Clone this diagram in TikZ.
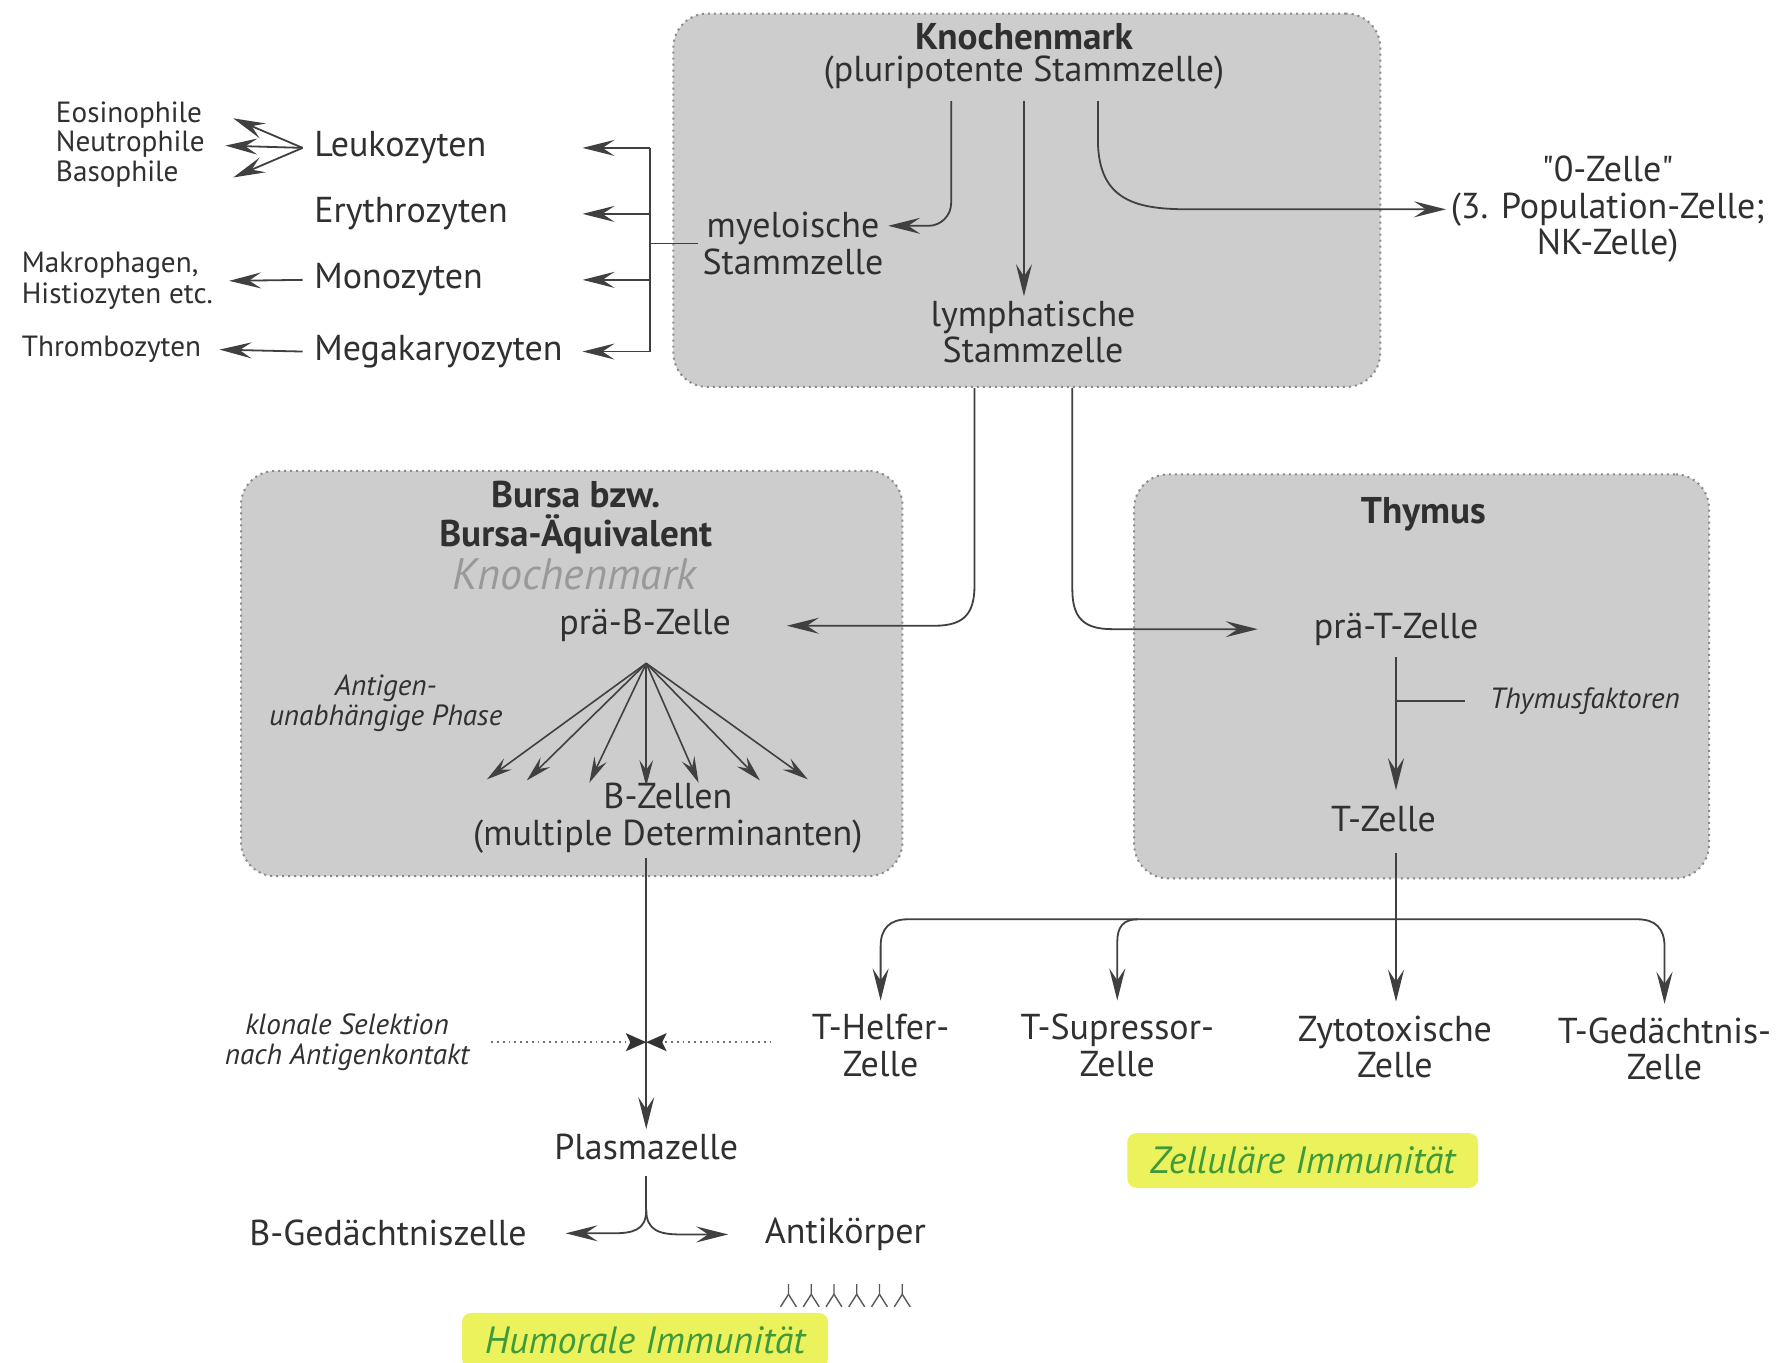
\documentclass[tikz,border=0pt]{standalone}
\usepackage{fontspec}
\setmainfont{PT Sans}
\newfontfamily\rawqfont{PT Sans}[Ligatures=TeXOff]
\usetikzlibrary{arrows.meta,calc}
\definecolor{txt}{HTML}{303030}
\definecolor{boxfill}{HTML}{CDCDCD}
\definecolor{boxline}{HTML}{8A8A8A}
\definecolor{hiyellow}{HTML}{ECF25C}
\definecolor{higreen}{HTML}{3E9A3A}
\definecolor{pen}{HTML}{999999}
\tikzset{
 region/.style={draw=boxline, densely dotted, line width=0.5pt, fill=boxfill, rounded corners=0.3cm, inner sep=0pt},
 lblmain/.style={text=txt, font=\fontsize{9}{9.1}\selectfont, inner sep=1pt, align=center},
 lblsmall/.style={text=txt, font=\fontsize{7.3}{6.6}\selectfont, inner sep=1pt},
 lblnote/.style={text=txt, font=\fontsize{7.3}{7.6}\selectfont\itshape, inner sep=1pt, align=center},
 lblhead/.style={text=txt, font=\fontsize{9.3}{9.6}\selectfont\bfseries, inner sep=1pt, align=center},
 lblhand/.style={text=pen, font=\fontsize{11}{12}\selectfont\itshape, inner sep=1pt},
 immun/.style={text=higreen, fill=hiyellow, font=\fontsize{9.5}{10}\selectfont\itshape, rounded corners=0.08cm, inner xsep=0.2cm, inner ysep=0.12cm},
 ln/.style={draw=black!75, line width=0.45pt},
 conn/.style={ln, -{Stealth[length=8pt,width=4pt,inset=3pt]}},
 fanarrow/.style={ln, line width=0.4pt, -{Stealth[length=6.5pt,width=3.4pt,inset=2.4pt]}},
 dotln/.style={draw=black!55, line width=0.45pt, densely dotted},
 abstyle/.style={draw=black!65, line width=0.35pt},
}
\begin{document}
\begin{tikzpicture}[x=0.01cm,y=-0.01cm]
\useasboundingbox (0,0) rectangle (1568,1198);
\fill[white] (0,0) rectangle (1568,1198);

% ---------- regions ----------
\node[region, minimum width=6.21cm, minimum height=3.28cm] (km) at (902.5,176) {};
\node[region, minimum width=5.81cm, minimum height=3.56cm] (bursa) at (502.5,592) {};
\node[region, minimum width=5.05cm, minimum height=3.55cm] (thy) at (1249.5,594.5) {};

% ---------- Knochenmark ----------
\node[lblhead] (kmT) at (900,32) {Knochenmark};
\node[lblmain] (kmS) at (900,64) {(pluripotente Stammzelle)};
\node[lblmain] (mye) at (697,214) {myeloische\\Stammzelle};
\node[lblmain] (lym) at (908,292) {lymphatische\\Stammzelle};
\node[lblmain] (nk) at (1413,184) {{\rawqfont"}0-Zelle{\rawqfont"}\\(3. Population-Zelle;\\NK-Zelle)};

\coordinate (myeIn) at ([yshift=0.155cm]mye.east);
\draw[conn, rounded corners=0.2cm] ($(kmS.south)+(-64,6)$) |- (myeIn);
\draw[conn] ($(kmS.south)+(0,6)$) -- (kmS.south |- lym.north);
\coordinate (nkC) at ($(nk.west)+(-225,0)$);
\draw[conn] ($(kmS.south)+(65,6)$) -- ($(kmS.south)+(65,40)$) .. controls +(0,55) and +(-45,0) .. (nkC) -- (nk.west);

% ---------- left column ----------
\node[lblsmall, anchor=west] (eos) at (45,101) {Eosinophile};
\node[lblsmall, anchor=west] (neu) at (45,127) {Neutrophile};
\node[lblsmall, anchor=west] (baso) at (45,153) {Basophile};
\node[lblsmall, anchor=west, align=left] (makro) at (15,247) {Makrophagen,\\Histiozyten etc.};
\node[lblsmall, anchor=west] (thromb) at (15,307) {Thrombozyten};

\node[lblmain, anchor=west] (leu) at (272,130) {Leukozyten};
\node[lblmain, anchor=west] (ery) at (272,188) {Erythrozyten};
\node[lblmain, anchor=west] (mono) at (272,246) {Monozyten};
\node[lblmain, anchor=west] (mega) at (272,309) {Megakaryozyten};

\coordinate (leuF) at ($(leu.west)+(-6,0)$);
\coordinate (eosT) at (205,104);
\coordinate (neuT) at (198,128);
\coordinate (basoT) at (205,156);
\draw[conn] (leuF) -- (eosT);
\draw[conn] (leuF) -- (neuT);
\draw[conn] (leuF) -- (basoT);

\coordinate (brX) at (571,0);
\coordinate (tipX) at (512,0);
\draw[ln] (brX |- leu.west) -- (brX |- mega.west);
\foreach \n in {leu,ery,mono,mega}{
  \draw[conn] (brX |- \n.west) -- (tipX |- \n.west);
}
\draw[ln] (mye.west) -- (brX |- mye.west);

\draw[conn, shorten >=0.1cm] ($(mono.west)+(-6,0)$) -- (makro.east);
\draw[conn, shorten >=0.12cm] ($(mega.west)+(-6,0)$) -- (thromb.east);

% ---------- Bursa ----------
\node[lblhead] (bursaT) at (506,455) {Bursa bzw.\\Bursa-Äquivalent};
\node[lblhand] (hand) at (505,505) {Knochenmark};
\node[lblmain] (preB) at (567,550) {prä-B-Zelle};
\node[lblnote] (antig) at (339,618) {Antigen-\\unabhängige Phase};
\node[lblmain] (bz) at (587,719) {B-Zellen\\(multiple Determinanten)};

\coordinate (fanO) at (568,583);
\foreach \tx/\ty [count=\i] in {428/685,463/686,518/688,568/691,614/688,668/686,710/685}{
  \coordinate (fan\i) at (\tx,\ty);
  \draw[fanarrow] (fanO) -- (fan\i);
}

% ---------- Thymus ----------
\node[lblhead] (thyT) at (1251,452) {Thymus};
\node[lblmain] (preT) at (1227,553) {prä-T-Zelle};
\node[lblnote] (thyf) at (1393,616) {Thymusfaktoren};
\node[lblmain] (tz) at (1216,720) {T-Zelle};

\draw[conn, shorten >=0.1cm] ($(preT.south)+(0,6)$) -- (preT.south |- tz.north);
\draw[ln] (preT.south |- thyf.west) -- ($(thyf.west)+(-18,0)$);

% ---------- lymphatic to pre-B / pre-T ----------
\coordinate (lymB) at ($(km.south)+(-46,0)$);
\coordinate (lymT) at ($(km.south)+(40,0)$);
\draw[conn, shorten >=0.45cm] (lymB) -- ($(lymB |- preB.east)+(0,-35)$) .. controls +(0,25) and +(25,0) .. ($(lymB |- preB.east)+(-35,0)$) -- (preB.east);
\draw[conn, shorten >=0.45cm] (lymT) -- ($(lymT |- preT.west)+(0,-35)$) .. controls +(0,25) and +(-25,0) .. ($(lymT |- preT.west)+(35,0)$) -- (preT.west);

% ---------- T cell branches ----------
\node[lblmain] (thelf) at (774,919) {T-Helfer-\\Zelle};
\node[lblmain] (tsup) at (982,919) {T-Supressor-\\Zelle};
\node[lblmain] (zyto) at (1226,920) {Zytotoxische\\Zelle};
\node[lblmain] (tged) at (1463,922) {T-Gedächtnis-\\Zelle};

\coordinate (tj) at (1227,808);
\draw[ln] ($(preT.south |- tz.south)+(0,14)$) -- (tj);
\draw[conn, shorten >=0.08cm] (tj) -- ($(tj -| thelf.north)+(24,0)$) .. controls +(-16,0) and +(0,-16) .. ($(tj -| thelf.north)+(0,24)$) -- (thelf.north);
\draw[conn, shorten >=0.08cm] ($(tj -| tsup.north)+(18,0)$) .. controls +(-13,0) and +(0,-13) .. ($(tj -| tsup.north)+(0,20)$) -- (tsup.north);
\draw[conn, shorten >=0.08cm] (tj) -- (tj |- zyto.north);
\draw[conn, shorten >=0.08cm] (tj) -- ($(tj -| tged.north)+(-24,0)$) .. controls +(16,0) and +(0,-16) .. ($(tj -| tged.north)+(0,24)$) -- (tged.north);

\node[immun] (zell) at (1145,1020) {Zelluläre Immunität};

% ---------- B cell path ----------
\node[lblnote] (klon) at (305,916) {klonale Selektion\\nach Antigenkontakt};
\node[lblmain] (plasma) at (568,1008) {Plasmazelle};
\node[lblmain] (bged) at (341,1084) {B-Gedächtniszelle};
\node[lblmain] (anti) at (743,1085) {Antikörper};

\draw[conn] (plasma.north |- bz.south) -- (plasma.north);
\draw[dotln, shorten <=0.15cm, shorten >=0.3cm] (klon.east) -- (thelf.west |- klon.east);
\coordinate (bow) at (plasma.north |- klon.east);
\fill[black!80] (bow) -- ++(-18,-8) -- ++(4,8) -- ++(-4,8) -- cycle;
\fill[black!80] (bow) -- ++(18,-8) -- ++(-4,8) -- ++(4,8) -- cycle;

\coordinate (pSplit) at ($(plasma.south)+(0,40)$);
\draw[ln] ($(plasma.south)+(0,10)$) -- (pSplit);
\draw[conn, shorten >=0.3cm] (pSplit) .. controls +(0,18) and +(18,0) .. ($(pSplit |- bged.east)+(-30,0)$) -- (bged.east);
\draw[conn, shorten >=0.28cm] (pSplit) .. controls +(0,18) and +(-18,0) .. ($(pSplit |- anti.west)+(30,0)$) -- (anti.west);

\coordinate (abBase) at ($(anti.south)+(-50,25)$);
\foreach \k in {0,...,5}{
  \draw[abstyle] ($(abBase)+(20*\k,0)$) -- ++(0,9) -- ++(-7,11);
  \draw[abstyle] ($(abBase)+(20*\k,9)$) -- ++(7,11);
}

\node[immun] (hum) at (567,1178) {Humorale Immunität};
\end{tikzpicture}
\end{document}
